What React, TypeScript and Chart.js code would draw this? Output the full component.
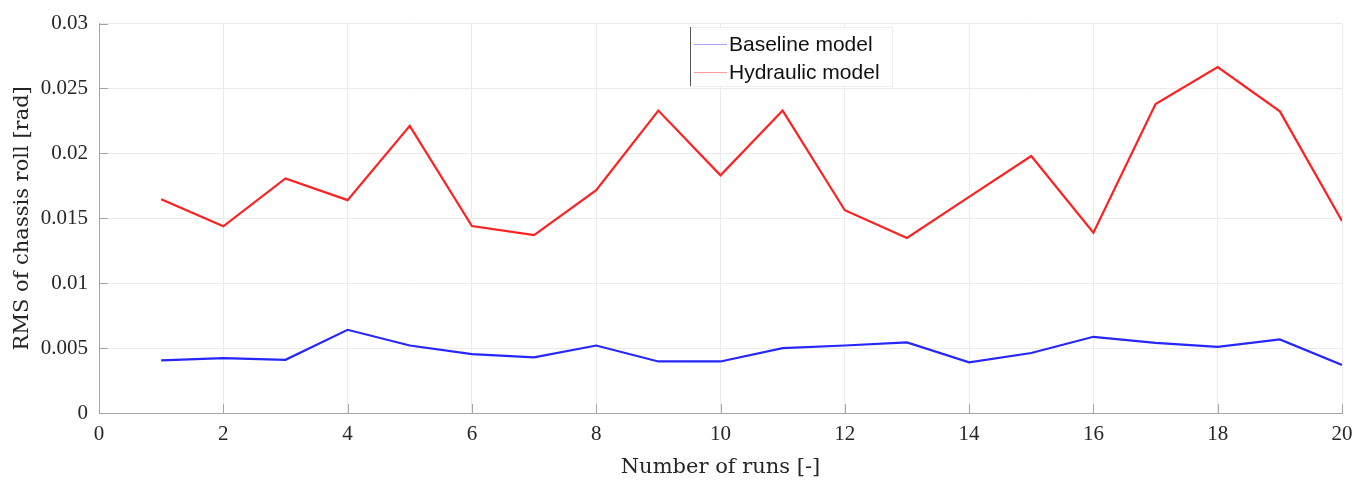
import React, { useEffect, useRef } from "react";
import { Chart, registerables } from "chart.js";

Chart.register(...registerables);

const runs = [1, 2, 3, 4, 5, 6, 7, 8, 9, 10, 11, 12, 13, 14, 15, 16, 17, 18, 19, 20];
const baselineModel = [0.00405, 0.00423, 0.0041, 0.00641, 0.0052, 0.00454, 0.00428, 0.0052, 0.00397, 0.00397, 0.005, 0.0052, 0.00544, 0.0039, 0.00462, 0.00587, 0.0054, 0.0051, 0.00567, 0.0037];
const hydraulicModel = [0.01647, 0.01438, 0.01807, 0.0164, 0.02212, 0.0144, 0.01371, 0.01717, 0.0233, 0.01831, 0.0233, 0.01562, 0.01348, 0.01665, 0.0198, 0.01389, 0.02381, 0.02665, 0.02324, 0.01479];
const seriesNames = ["Baseline model", "Hydraulic model"];
const xTicks = [0, 2, 4, 6, 8, 10, 12, 14, 16, 18, 20];
const yTicks = [0, 0.005, 0.01, 0.015, 0.02, 0.025, 0.03];

const SERIF = "'Liberation Serif', 'DejaVu Serif', serif";
const TITLE_SERIF = "'DejaVu Serif', 'Liberation Serif', serif";
const SANS = "'Liberation Sans', Arial, sans-serif";

const innerTicks = {
  id: "innerTicks",
  afterDatasetsDraw(chart: any) {
    const { ctx, chartArea, scales } = chart;
    ctx.save();
    ctx.strokeStyle = "#a6a6a6";
    ctx.lineWidth = 1;
    ctx.beginPath();
    for (const v of yTicks) {
      const y = Math.round(scales.y.getPixelForValue(v)) + 0.5;
      ctx.moveTo(chartArea.left, y);
      ctx.lineTo(chartArea.left + 9, y);
    }
    for (const v of xTicks) {
      const x = Math.round(scales.x.getPixelForValue(v)) + 0.5;
      ctx.moveTo(x, chartArea.bottom);
      ctx.lineTo(x, chartArea.bottom - 9);
    }
    ctx.stroke();
    ctx.restore();
  },
};

const boxLegend = {
  id: "boxLegend",
  afterDraw(chart: any) {
    const { ctx } = chart;
    const left = 690, top = 27, width = 202, height = 59;
    ctx.save();
    ctx.fillStyle = "#ffffff";
    ctx.fillRect(left, top, width, height);
    ctx.strokeStyle = "#eeeeee";
    ctx.lineWidth = 1;
    ctx.strokeRect(left + 0.5, top + 0.5, width, height);
    ctx.strokeStyle = "#555555";
    ctx.beginPath();
    ctx.moveTo(left + 0.5, top);
    ctx.lineTo(left + 0.5, top + height);
    ctx.stroke();
    const sampleColors = ["rgba(90,90,255,0.55)", "rgba(255,70,70,0.55)"];
    chart.data.datasets.forEach((ds: any, i: number) => {
      const cy = top + 17 + i * 28;
      ctx.strokeStyle = sampleColors[i];
      ctx.lineWidth = 1.2;
      ctx.beginPath();
      ctx.moveTo(694, cy + 0.5);
      ctx.lineTo(727, cy + 0.5);
      ctx.stroke();
      ctx.fillStyle = "#111111";
      ctx.font = `21px ${SANS}`;
      ctx.textBaseline = "middle";
      ctx.textAlign = "left";
      ctx.fillText(ds.label, 729, cy + 1);
    });
    ctx.restore();
  },
};

export default function App() {
  const canvasRef = useRef<HTMLCanvasElement | null>(null);

  useEffect(() => {
    document.body.style.margin = "0";
    const canvas = canvasRef.current;
    if (!canvas) return;
    const chart = new Chart(canvas, {
      type: "line",
      data: {
        datasets: [
          {
            label: seriesNames[0],
            data: runs.map((r, i) => ({ x: r, y: baselineModel[i] })),
            borderColor: "#2626ff",
            borderWidth: 2.2,
            pointRadius: 0,
            tension: 0,
          },
          {
            label: seriesNames[1],
            data: runs.map((r, i) => ({ x: r, y: hydraulicModel[i] })),
            borderColor: "#ff2020",
            borderWidth: 2.2,
            pointRadius: 0,
            tension: 0,
          },
        ],
      },
      options: {
        animation: false,
        responsive: false,
        maintainAspectRatio: false,
        layout: { padding: { left: 0, top: 23, right: 30, bottom: 0 } },
        plugins: {
          legend: { display: false },
          tooltip: { enabled: false },
        },
        scales: {
          x: {
            type: "linear",
            min: 0,
            max: 20,
            afterFit: (s: any) => { s.height = 72; },
            afterBuildTicks: (s: any) => { s.ticks = xTicks.map((v) => ({ value: v })); },
            ticks: {
              color: "#262626",
              font: { family: SERIF, size: 21 },
              padding: 9,
              maxRotation: 0,
              callback: (v: any) => String(v),
            },
            grid: { color: "#ebebeb", drawTicks: false, lineWidth: 1 },
            border: { display: true, color: "#a6a6a6", width: 1 },
            title: {
              display: true,
              text: "Number of runs [-]",
              color: "#262626",
              font: { family: TITLE_SERIF, size: 21 },
              padding: { top: 0, bottom: 5 },
            },
          },
          y: {
            type: "linear",
            min: 0,
            max: 0.03,
            afterFit: (s: any) => { s.width = 99; },
            afterBuildTicks: (s: any) => { s.ticks = yTicks.map((v) => ({ value: v })); },
            ticks: {
              color: "#262626",
              font: { family: SERIF, size: 21 },
              padding: 11,
              callback: (v: any) => String(+Number(v).toFixed(3)),
            },
            grid: { color: "#ebebeb", drawTicks: false, lineWidth: 1 },
            border: { display: true, color: "#a6a6a6", width: 1 },
            title: {
              display: true,
              text: "RMS of chassis roll [rad]",
              color: "#262626",
              font: { family: TITLE_SERIF, size: 21 },
              padding: { top: 10, bottom: 0 },
            },
          },
        },
      },
      plugins: [innerTicks, boxLegend],
    });
    return () => chart.destroy();
  }, []);

  return (
    <div style={{ position: "absolute", left: 0, top: 0, width: 1372, height: 485, background: "#fff" }}>
      <canvas ref={canvasRef} width={1372} height={485} style={{ width: 1372, height: 485 }} />
    </div>
  );
}
